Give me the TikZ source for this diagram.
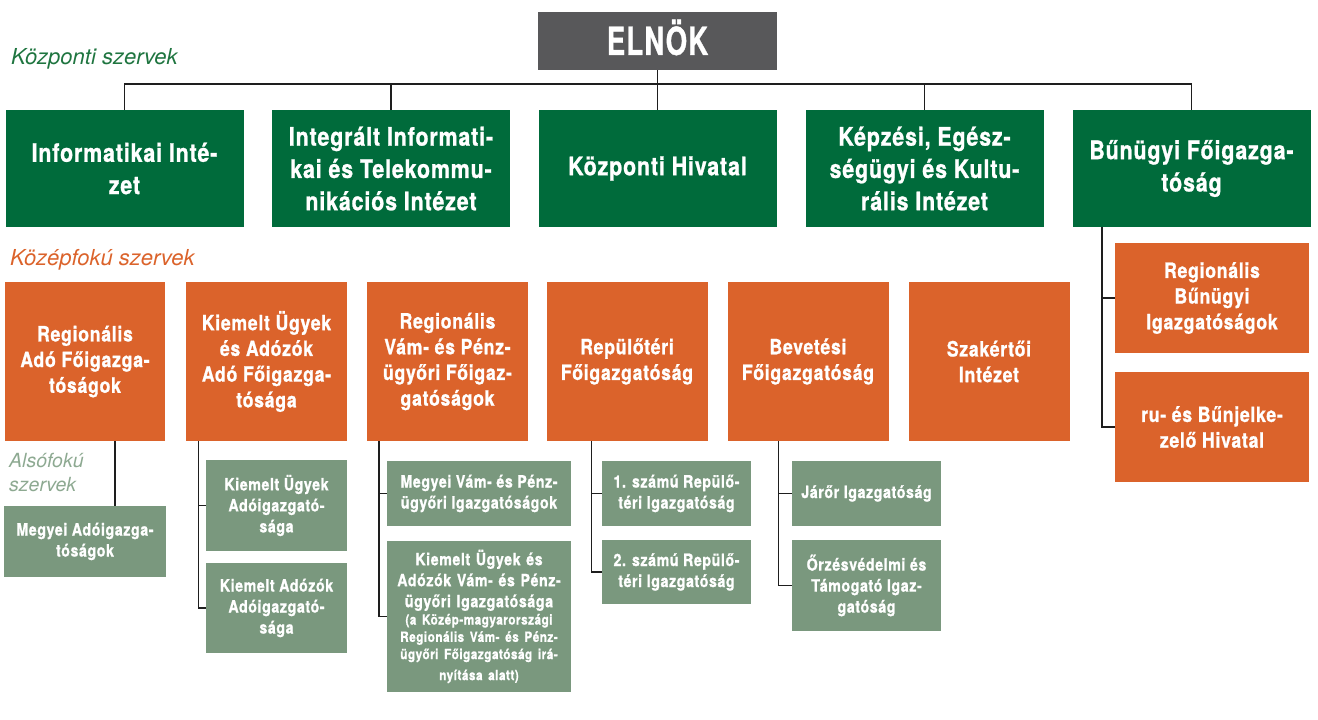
\documentclass[tikz,border=0pt]{standalone}
\usepackage{graphicx}
\usepackage{fontspec}
\setmainfont{TeX Gyre Heros}
\newfontfamily\dobozfont[FakeStretch=0.84,LetterSpace=3.5,FakeBold=1]{TeX Gyre Heros}
\definecolor{elnokszurke}{HTML}{58585A}
\definecolor{kozpzold}{HTML}{006B3B}
\definecolor{kozepnarancs}{HTML}{DB632B}
\definecolor{alsozold}{HTML}{7A987E}
\definecolor{feliratzold}{HTML}{1F7540}
\definecolor{feliratszurke}{HTML}{8DA991}
\definecolor{vonalszin}{HTML}{1E1E1E}

\begin{document}
\begin{tikzpicture}[x=1pt, y=-1pt,
    doboz/.style={rectangle, inner sep=0pt, align=center, text=white},
    elnok/.style={doboz, fill=elnokszurke, minimum width=239pt, minimum height=58pt,
      text height=27.7pt, text depth=0pt,
      font=\dobozfont\bfseries\fontsize{38.6}{40}\selectfont},
    kozp/.style={doboz, fill=kozpzold, minimum width=238pt, minimum height=117pt,
      font=\dobozfont\bfseries\fontsize{25.4}{32.3}\selectfont},
    kozep/.style={doboz, fill=kozepnarancs, minimum width=161pt, minimum height=159pt,
      font=\dobozfont\bfseries\fontsize{21}{25.7}\selectfont},
    also/.style={doboz, fill=alsozold,
      font=\dobozfont\bfseries\fontsize{16.9}{21}\selectfont},
    szint/.style={anchor=base west, inner sep=0pt, align=left,
      font=\itshape\fontsize{22}{24}\selectfont},
    vonal/.style={draw=vonalszin, line width=1.6pt}]
  \useasboundingbox (0,0) rectangle (1318,720);

  % szintek feliratai
  \node (t1) at (11,64) [szint, text=feliratzold] {Központi szervek};
  \node (t2) at (10,265) [szint, text=kozepnarancs] {Középfokú szervek};
  \node (t3) at (9,491) [szint, text=feliratszurke, font=\itshape\fontsize{19.5}{24}\selectfont] {Alsófokú\\szervek};

  % elnok es kozponti szervek
  \node (elnok) at (657.5,41) [elnok] {\scalebox{0.85}[1]{ELNÖK}};
  \node (k1) at (124.5,168.5) [kozp] {Informatikai Inté-\\zet};
  \node (k2) at (391,168.5) [kozp] {Integrált Informati-\\kai és Telekommu-\\nikációs Intézet};
  \node (k3) at (657.5,168.5) [kozp] {Központi Hivatal};
  \node (k4) at (924.5,168.5) [kozp] {Képzési, Egész-\\ségügyi és Kultu-\\rális Intézet};
  \node (k5) at (1191.5,168.5) [kozp] {Bűnügyi Főigazga-\\tóság};

  % kozepfoku szervek
  \node (m1) at (85,361.5) [kozep, minimum width=160pt] {Regionális\\Adó Főigazga-\\tóságok};
  \node (m2) at (266.5,361.5) [kozep] {Kiemelt Ügyek\\és Adózók\\Adó Főigazga-\\tósága};
  \node (m3) at (447.5,361.5) [kozep] {Regionális\\Vám- és Pénz-\\ügyőri Főigaz-\\gatóságok};
  \node (m4) at (627,361.5) [kozep] {Repülőtéri\\Főigazgatóság};
  \node (m5) at (808,361.5) [kozep] {Bevetési\\Főigazgatóság};
  \node (m6) at (989,361.5) [kozep] {Szakértői\\Intézet};
  \node (r1) at (1212,298) [kozep, minimum width=194pt, minimum height=110pt] {Regionális\\Bűnügyi\\Igazgatóságok};
  \node (r2) at (1212,427) [kozep, minimum width=194pt, minimum height=110pt] {ru- és Bűnjelke-\\zelő Hivatal};

  % alsofoku szervek
  \node (a11) at (85,541.5) [also, minimum width=162pt, minimum height=71pt] {Megyei Adóigazga-\\tóságok};
  \node (a21) at (276.5,505.5) [also, minimum width=141pt, minimum height=91pt] {Kiemelt Ügyek\\Adóigazgató-\\sága};
  \node (a22) at (276.5,608) [also, minimum width=141pt, minimum height=90pt] {Kiemelt Adózók\\Adóigazgató-\\sága};
  \node (a31) at (479,493.5) [also, minimum width=184pt, minimum height=65pt] {Megyei Vám- és Pénz-\\ügyőri Igazgatóságok};
  \node (a32) at (479,616.5) [also, minimum width=184pt, minimum height=151pt, text width=184pt]
    {Kiemelt Ügyek és\\Adózók Vám- és Pénz-\\ügyőri Igazgatósága\par
     \fontsize{14}{17.3}\selectfont (a Közép-magyarországi\\Regionális Vám- és Pénz-\\ügyőri Főigazgatóság irá-\\nyítása alatt)};
  \node (a41) at (676.5,493.5) [also, minimum width=149pt, minimum height=65pt] {1. számú Repülő-\\téri Igazgatóság};
  \node (a42) at (676.5,572) [also, minimum width=149pt, minimum height=64pt] {2. számú Repülő-\\téri Igazgatóság};
  \node (a51) at (866.5,493.5) [also, minimum width=149pt, minimum height=65pt] {Járőr Igazgatóság};
  \node (a52) at (866.5,585.5) [also, minimum width=149pt, minimum height=91pt] {Őrzésvédelmi és\\Támogató Igaz-\\gatóság};

  % osszekotesek
  \coordinate (busz) at (657.5,84);
  \draw[vonal] (elnok) -- (k3);
  \foreach \k in {k1,k2,k4,k5}
    \draw[vonal] (\k.north) |- (busz);
  \draw[vonal] ([xshift=30pt]m1.south) -- ([xshift=30pt]a11.north);
  \foreach \felso/\alsobb/\dx in {m2/a21/7.5, m2/a22/7.5, m3/a31/8, m3/a32/8, m4/a41/10.5, m4/a42/10.5,
      m5/a51/13.5, m5/a52/13.5, k5/r1/13, k5/r2/13}
    \draw[vonal] ([xshift=-\dx pt]\alsobb.west |- \felso.south) |- (\alsobb.west);
\end{tikzpicture}
\end{document}
